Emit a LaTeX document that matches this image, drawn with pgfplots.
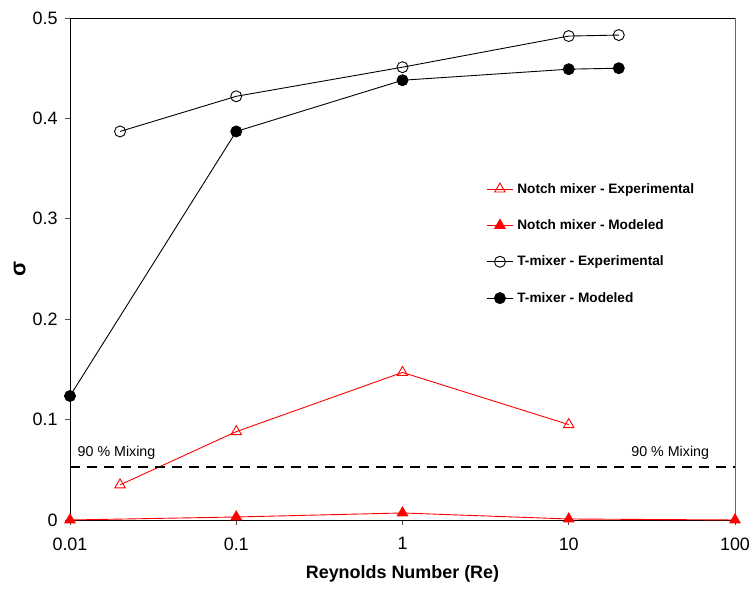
\documentclass[border=0pt]{standalone}
\usepackage{pgfplots}
\pgfplotsset{compat=1.18}
\usepackage{fontspec}
\setmainfont{Liberation Sans}
\begin{document}
\begin{tikzpicture}[x=1bp,y=1bp]
\begin{axis}[
  scale only axis,
  width=665bp, height=502bp,
  xmode=log,
  xmin=0.01, xmax=100,
  ymin=0, ymax=0.5,
  log basis x=10,
  xtick={0.01,0.1,1,10,100},
  xticklabels={0.01,0.1,1,10,100},
  ytick={0,0.1,0.2,0.3,0.4,0.5},
  yticklabels={0,0.1,0.2,0.3,0.4,0.5},
  minor xtick={},
  xtick pos=bottom, ytick pos=left,
  tick align=outside,
  major tick length=5bp,
  tick style={black!70, line width=0.6pt},
  axis line style={line width=0.9pt},
  every axis plot/.append style={line width=0.9pt},
  tick label style={font=\fontsize{18}{20}\selectfont},
  xticklabel style={yshift=-9bp},
  yticklabel style={xshift=-4bp},
  /pgf/number format/assume math mode=true,
  xlabel={\textbf{Reynolds Number (Re)}},
  ylabel={\textbf{σ}},
  xlabel style={font=\fontsize{18}{20}\selectfont, yshift=-8bp},
  ylabel style={font=\fontsize{22}{24}\selectfont, yshift=0bp},
  clip=false,
  legend image code/.code={\draw[mark repeat=2, mark phase=2] plot coordinates {(0bp,0bp) (13bp,0bp) (26bp,0bp)};},
  legend style={draw=none, fill=none, at={(rel axis cs:0.626,0.675)}, anchor=north west,
    font=\fontsize{13.7}{15}\selectfont\bfseries, row sep=21bp, inner xsep=0pt, inner ysep=0pt,
    cells={anchor=west}, /tikz/every odd column/.append style={column sep=2bp}},
  legend cell align=left,
]
\addplot[red, mark=triangle, mark size=6bp, mark options={solid, fill=white, line width=0.9pt}]
  coordinates {(0.02,0.035) (0.1,0.088) (1,0.147) (10,0.095)};
\addlegendentry{Notch mixer - Experimental}
\addplot[red, mark=triangle*, mark size=6bp, mark options={solid, fill=red}]
  coordinates {(0.01,0) (0.1,0.003) (1,0.007) (10,0.001) (100,0)};
\addlegendentry{Notch mixer - Modeled}
\addplot[black, mark=o, mark size=5.5bp, mark options={solid, fill=white, line width=0.9pt}]
  coordinates {(0.02,0.387) (0.1,0.422) (1,0.451) (10,0.482) (20,0.483)};
\addlegendentry{T-mixer - Experimental}
\addplot[black, mark=*, mark size=5.5bp, mark options={solid, fill=black}]
  coordinates {(0.01,0.1235) (0.1,0.387) (1,0.438) (10,0.449) (20,0.450)};
\addlegendentry{T-mixer - Modeled}
\addplot[black, dash pattern=on 10bp off 7bp, line width=1.5pt, forget plot]
  coordinates {(0.01,0.053) (100,0.053)};
\draw[black!60, line width=1pt] (rel axis cs:1,0) -- (rel axis cs:1,1);
\node[anchor=base west, font=\fontsize{14.3}{16}\selectfont, inner sep=0pt] at (axis cs:0.0111,0.063) {90 \% Mixing};
\node[anchor=base east, font=\fontsize{14.3}{16}\selectfont, inner sep=0pt] at (axis cs:70,0.063) {90 \% Mixing};
\coordinate (bl) at (rel axis cs:0,0);
\coordinate (tr) at (rel axis cs:1,1);
\end{axis}
\pgfresetboundingbox
\path[use as bounding box] ([shift={(-70bp,-71bp)}]bl) rectangle ([shift={(17bp,18bp)}]tr);
\end{tikzpicture}
\end{document}
